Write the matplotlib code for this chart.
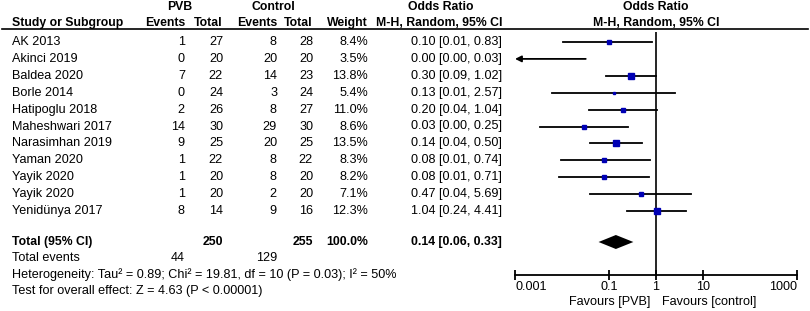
import matplotlib
matplotlib.use("Agg")
import matplotlib.pyplot as plt

plt.rcParams['font.family'] = ['Liberation Sans', 'DejaVu Sans']
plt.rcParams['font.size'] = 9.1

# DATA
studies = ["AK 2013", "Akinci 2019", "Baldea 2020", "Borle 2014", "Hatipoglu 2018",
           "Maheshwari 2017", "Narasimhan 2019", "Yaman 2020", "Yayik 2020",
           "Yayik 2020", "Yenidünya 2017"]
pvb_events = [1, 0, 7, 0, 2, 14, 9, 1, 1, 1, 8]
pvb_total = [27, 20, 22, 24, 26, 30, 25, 22, 20, 20, 14]
ctl_events = [8, 20, 14, 3, 8, 29, 20, 8, 8, 2, 9]
ctl_total = [28, 20, 23, 24, 27, 30, 25, 22, 20, 20, 16]
weights = [8.4, 3.5, 13.8, 5.4, 11.0, 8.6, 13.5, 8.3, 8.2, 7.1, 12.3]
odds = [0.10, 0.00, 0.30, 0.13, 0.20, 0.03, 0.14, 0.08, 0.08, 0.47, 1.04]
ci_low = [0.0104, 0.00, 0.088, 0.006, 0.038, 0.0034, 0.039, 0.0094, 0.0087, 0.039, 0.24]
ci_high = [0.83, 0.032, 1.02, 2.57, 1.04, 0.25, 0.50, 0.74, 0.71, 5.69, 4.41]
pooled = (0.14, 0.06, 0.33)
het_text = "Heterogeneity: Tau\u00b2 = 0.89; Chi\u00b2 = 19.81, df = 10 (P = 0.03); I\u00b2 = 50%"
test_text = "Test for overall effect: Z = 4.63 (P < 0.00001)"
xticks = [0.001, 0.1, 1, 10, 1000]
xtick_labels = ["0.001", "0.1", "1", "10", "1000"]

W, H = 810, 311
ROW0, ROWH = 42, 16.9   # pixel centre of first study row, row height
BOLD_SIZE = 8.8


def row_of(py):
    return (py - ROW0) / ROWH


fig = plt.figure(figsize=(W / 100, H / 100), dpi=100)
tab = fig.add_axes([0, 0, 1, 1])
tab.set_xlim(0, W)
tab.set_ylim(row_of(H), row_of(0))
tab.axis("off")

ax = fig.add_axes([515 / W, 1 - 275 / H, (797 - 515) / W, (275 - 32) / H])
ax.set_xscale("log")
ax.set_xlim(0.001, 1000)
ax.set_ylim(row_of(275), row_of(32))
ax.patch.set_alpha(0)
for s in ["top", "left", "right"]:
    ax.spines[s].set_visible(False)
ax.spines["bottom"].set_linewidth(1.3)
ax.set_yticks([])
ax.set_xticks(xticks)
ax.set_xticklabels(xtick_labels)
ax.minorticks_off()
ax.tick_params(axis="x", direction="inout", length=7, width=1.3, pad=1, labelsize=9.1)
labels = ax.get_xticklabels()
labels[0].set_ha("left")
labels[-1].set_ha("right")
ax.axvline(1, color="black", lw=1.2)

# header
hdr_top, hdr_bot = row_of(7), row_of(23)
bold = dict(fontweight="bold", va="center", fontsize=BOLD_SIZE)
tab.text(180, hdr_top, "PVB", ha="center", **bold)
tab.text(273, hdr_top, "Control", ha="center", **bold)
tab.text(441, hdr_top, "Odds Ratio", ha="center", **bold)
tab.text(656, hdr_top, "Odds Ratio", ha="center", **bold)
tab.text(12, hdr_bot, "Study or Subgroup", ha="left", **bold)
tab.text(185, hdr_bot, "Events", ha="right", **bold)
tab.text(223, hdr_bot, "Total", ha="right", **bold)
tab.text(277, hdr_bot, "Events", ha="right", **bold)
tab.text(313, hdr_bot, "Total", ha="right", **bold)
tab.text(368, hdr_bot, "Weight", ha="right", **bold)
tab.text(502, hdr_bot, "M-H, Random, 95% CI", ha="right", **bold)
tab.text(656, hdr_bot, "M-H, Random, 95% CI", ha="center", **bold)
tab.plot([2, 808], [row_of(29), row_of(29)], color="black", lw=1.2)

# study rows
for i, name in enumerate(studies):
    tab.text(12, i, name, ha="left", va="center")
    tab.text(185, i, str(pvb_events[i]), ha="right", va="center")
    tab.text(223, i, str(pvb_total[i]), ha="right", va="center")
    tab.text(277, i, str(ctl_events[i]), ha="right", va="center")
    tab.text(313, i, str(ctl_total[i]), ha="right", va="center")
    tab.text(368, i, f"{weights[i]:.1f}%", ha="right", va="center")
    tab.text(502, i, f"{odds[i]:.2f} [{ci_low[i]:.2f}, {ci_high[i]:.2f}]",
             ha="right", va="center")

    if ci_low[i] < 0.001:
        ax.annotate("", xy=(0.001, i), xytext=(ci_high[i], i),
                    arrowprops=dict(arrowstyle="-|>", color="black", lw=1.3,
                                    shrinkA=0, shrinkB=0, mutation_scale=9))
    else:
        ax.plot([ci_low[i], ci_high[i]], [i, i], color="black", lw=1.3)
    if odds[i] > 0.001:
        side = 0.35 * weights[i] + 0.8
        ax.plot(odds[i], i, marker="s", ms=side * 0.72, color="#0000b4",
                mec="#0000b4", lw=0)

# totals
tot_row = row_of(242)
tab.text(12, tot_row, "Total (95% CI)", ha="left", **bold)
tab.text(223, tot_row, str(sum(pvb_total)), ha="right", **bold)
tab.text(313, tot_row, str(sum(ctl_total)), ha="right", **bold)
tab.text(368, tot_row, "100.0%", ha="right", **bold)
tab.text(502, tot_row, f"{pooled[0]:.2f} [{pooled[1]:.2f}, {pooled[2]:.2f}]",
         ha="right", **bold)
h = 7 / ROWH
ax.fill([pooled[1], pooled[0], pooled[2], pooled[0]],
        [tot_row, tot_row - h, tot_row, tot_row + h], color="black", lw=0)

ev_row = row_of(258)
tab.text(12, ev_row, "Total events", ha="left", va="center")
tab.text(185, ev_row, str(sum(pvb_events)), ha="right", va="center")
tab.text(277, ev_row, str(sum(ctl_events)), ha="right", va="center")
tab.text(12, row_of(275), het_text, ha="left", va="center")
tab.text(12, row_of(291), test_text, ha="left", va="center")

fav_row = row_of(302)
tab.text(650, fav_row, "Favours [PVB]", ha="right", va="center")
tab.text(662, fav_row, "Favours [control]", ha="left", va="center")

fig.savefig("out.png", dpi=100)
